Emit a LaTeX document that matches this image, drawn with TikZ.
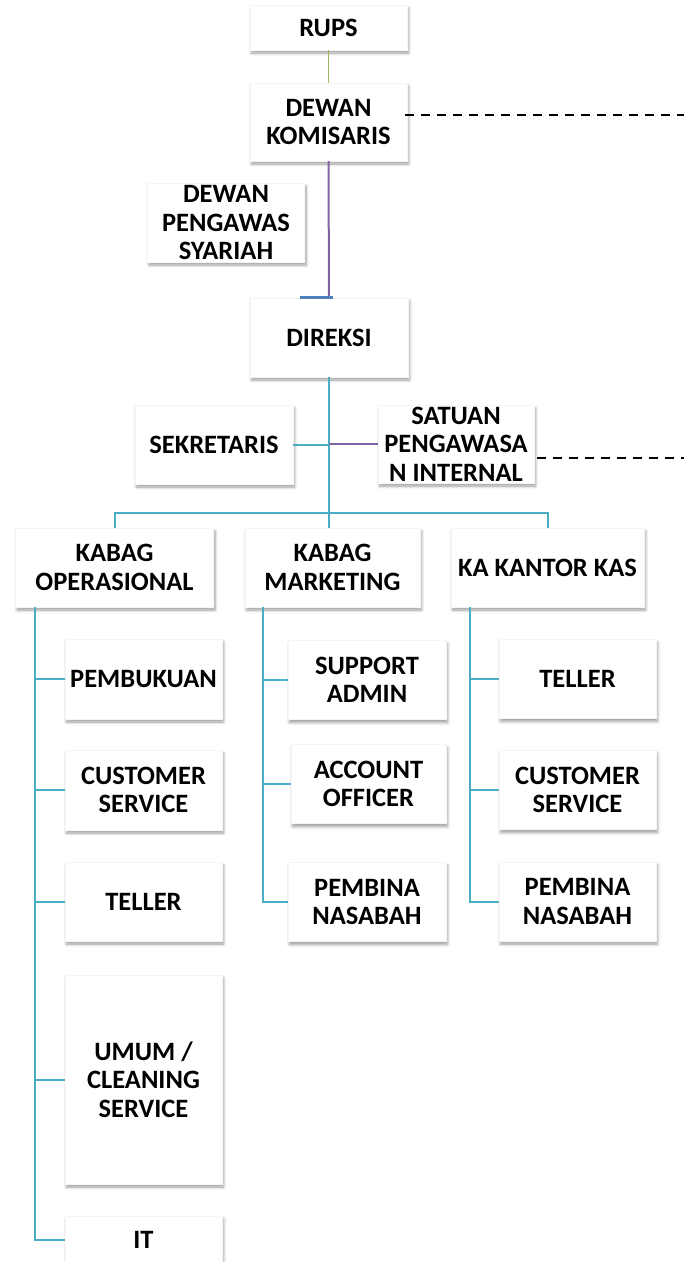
\documentclass[tikz,border=0pt]{standalone}
\usepackage{fontspec}
\setmainfont{Carlito}
\usetikzlibrary{shadows.blur}
\definecolor{linkblue}{RGB}{75,172,198}
\definecolor{linkgreen}{RGB}{155,187,89}
\definecolor{linkpurple}{RGB}{128,100,162}
\definecolor{tickblue}{RGB}{79,129,189}
\tikzset{
  unit/.style={fill=white, draw=black!4, inner sep=0pt, align=center,
    minimum width=157pt, minimum height=79pt,
    font=\fontsize{26.5}{28.5}\selectfont\bfseries,
    blur shadow={shadow xshift=1.5pt, shadow yshift=-3pt,
      shadow blur radius=3pt, shadow blur steps=6, shadow opacity=40}},
  link/.style={draw=linkblue, line width=2pt},
  linkg/.style={draw=linkgreen, line width=1.5pt},
  linkp/.style={draw=linkpurple, line width=2pt},
  topbar/.style={draw=tickblue, line width=3pt},
  dashline/.style={draw=black, line width=1.3pt, dash pattern=on 9pt off 7pt}
}
\begin{document}
\begin{tikzpicture}[x=1pt,y=-1pt]
  \useasboundingbox (0,0) rectangle (684,1262);
  % top of the chart
  \node[unit, minimum height=45pt] (rups) at (328.5,27.5) {RUPS};
  \node[unit, minimum height=78pt] (dk) at (328.5,122) {DEWAN\\KOMISARIS};
  \node[unit] (dps) at (226,222.5) {DEWAN\\PENGAWAS\\SYARIAH};
  \node[unit, minimum width=158pt] (dir) at (329,337.5) {DIREKSI};
  \node[unit, minimum width=158pt] (sek) at (214,444.5) {SEKRETARIS};
  \node[unit, minimum width=156pt, minimum height=78pt] (spi) at (456,444) {SATUAN\\PENGAWASA\\N INTERNAL};
  \node[unit, minimum width=198pt, minimum height=79pt] (kop) at (114.5,567.5) {KABAG\\OPERASIONAL};
  \node[unit, minimum width=175pt, minimum height=79pt] (kmk) at (332.5,567.5) {KABAG\\MARKETING};
  \node[unit, minimum width=193pt, minimum height=79pt] (kkk) at (547.5,567.5) {KA KANTOR KAS};

  \coordinate (hub) at (329,513);
  \coordinate (dkend) at (684,115);
  \coordinate (spiend) at (684,458);
  \draw[linkg] (rups) -- (dk);
  \draw[linkp] (dk) -- (dir);
  \draw[topbar] ([xshift=-29pt]dir.north) -- ([xshift=4pt]dir.north);
  \draw[link] (dir) -- (hub);
  \draw[link] (sek) -- (sek -| hub);
  \draw[linkp] (spi.west -| hub) -- (spi.west);
  \draw[link] (kop.north) |- (hub) -| (kkk.north);
  \draw[link] (hub) -- (hub |- kmk.north);
  \draw[dashline] ([xshift=-2pt,yshift=7pt]dk.east) -- (dkend);
  \draw[dashline] ([xshift=3pt,yshift=-14pt]spi.east) -- (spiend);

  % staff under each head
  \coordinate (opbus) at (35,607);
  \foreach \txt/\yy/\hh [count=\i] in {{PEMBUKUAN}/679/80, {CUSTOMER\\SERVICE}/790/80,
      {TELLER}/901.5/79, {UMUM /\\CLEANING\\SERVICE}/1079.5/209, {IT}/1240/48}{
    \node[unit, minimum height=\hh pt] (op\i) at (143.5,\yy) {\txt};
    \draw[link] (opbus) |- (op\i.west);
  }
  \coordinate (mkbus) at (263,607);
  \foreach \txt/\yy/\xx/\ww [count=\i] in {{SUPPORT\\ADMIN}/680/367/158, {ACCOUNT\\OFFICER}/784/368.5/155,
      {PEMBINA\\NASABAH}/902/367/158}{
    \node[unit, minimum width=\ww pt] (mk\i) at (\xx,\yy) {\txt};
    \draw[link] (mkbus) |- (mk\i.west);
  }
  \coordinate (kkbus) at (470,607);
  \foreach \txt/\yy [count=\i] in {{TELLER}/679, {CUSTOMER\\SERVICE}/790,
      {PEMBINA\\NASABAH}/901.5}{
    \node[unit] (kk\i) at (577.5,\yy) {\txt};
    \draw[link] (kkbus) |- (kk\i.west);
  }
\end{tikzpicture}
\end{document}
